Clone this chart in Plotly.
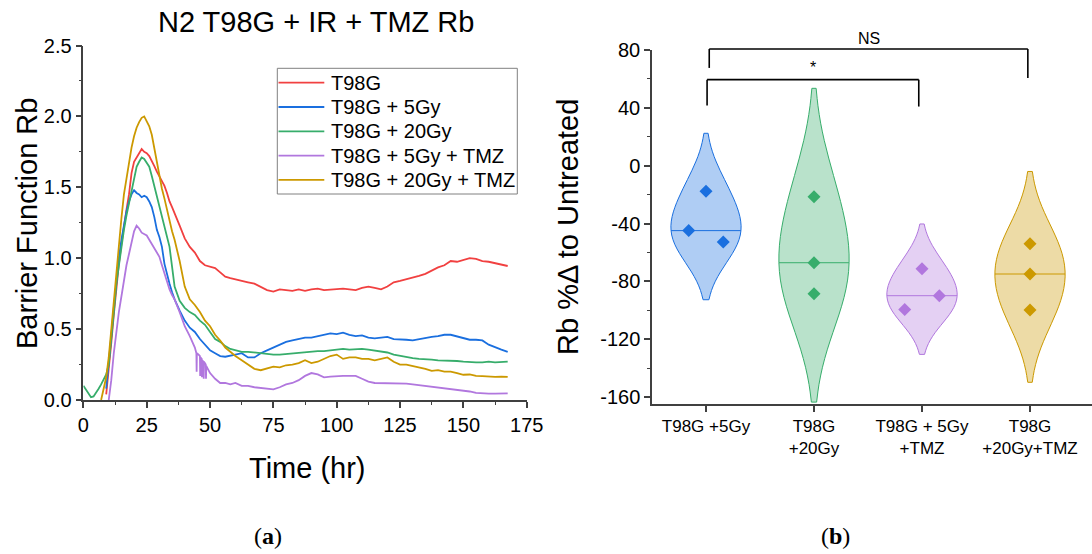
import numpy as np
import plotly.graph_objects as go

W, H = 1092, 554
FONT = "Liberation Sans, Arial, sans-serif"

# ---------------- Panel (a): barrier function time course ----------------
TIME = [0, 1, 2, 3, 4, 5, 6, 7, 8, 9, 10, 11, 12, 13, 14, 15, 16, 17, 18, 19, 20,
        21, 22, 23, 24, 25, 26, 27, 28, 29, 30, 31, 32, 33, 34, 35, 36,
        38, 40, 42, 44, 46, 48, 50, 52, 54, 56, 58, 60,
        62.5, 65, 67.5, 70, 72.5, 75, 77.5, 80, 82.5, 85,
        87.5, 90, 92.5, 95, 97.5, 100, 102.5, 105, 107.5, 110,
        112.5, 115, 117.5, 120, 122.5, 125, 127.5, 130, 132.5, 135,
        137.5, 140, 142.5, 145, 147.5, 150, 152.5, 155, 157.5, 160,
        162.5, 165, 167.5]

RB_T98G = [None, None, None, None, None, None, None, None, None,
           0.04, 0.20, 0.40, 0.60, 0.80, 0.96, 1.10, 1.24, 1.34, 1.45, 1.60, 1.68,
           1.71, 1.75, 1.77, 1.75, 1.74, 1.72, 1.69, 1.65, 1.61, 1.58, 1.55, 1.51,
           1.46, 1.40, 1.36, 1.32,
           1.23, 1.14, 1.08, 1.04, 0.98, 0.95, 0.94, 0.93, 0.90, 0.87, 0.86, 0.85,
           0.84, 0.83, 0.82, 0.80, 0.775, 0.765, 0.78, 0.775, 0.77, 0.78,
           0.77, 0.78, 0.785, 0.775, 0.78, 0.78, 0.785, 0.78, 0.775, 0.79,
           0.80, 0.79, 0.78, 0.80, 0.83, 0.84, 0.85, 0.86, 0.875, 0.89,
           0.915, 0.935, 0.95, 0.98, 0.975, 0.985, 1.00, 0.995, 0.98, 0.975,
           0.965, 0.955, 0.945]

RB_5GY = [None, None, None, None, None, None, None, None, None,
          0.08, 0.25, 0.45, 0.65, 0.85, 1.00, 1.13, 1.24, 1.33, 1.40, 1.45, 1.48,
          1.46, 1.45, 1.43, 1.44, 1.43, 1.40, 1.36, 1.29, 1.20, 1.15, 1.08, 0.96,
          0.88, 0.82, 0.76, 0.71,
          0.63, 0.56, 0.51, 0.48, 0.43, 0.39, 0.35, 0.33, 0.31, 0.305, 0.31, 0.32,
          0.33, 0.30, 0.30, 0.33, 0.35, 0.37, 0.39, 0.41, 0.42, 0.43,
          0.44, 0.44, 0.45, 0.455, 0.47, 0.465, 0.475, 0.46, 0.45, 0.455,
          0.44, 0.435, 0.44, 0.445, 0.43, 0.43, 0.425, 0.42, 0.43, 0.44,
          0.445, 0.45, 0.46, 0.46, 0.45, 0.435, 0.425, 0.425, 0.42, 0.39,
          0.37, 0.355, 0.34]

RB_20GY = [0.10, 0.07, 0.04, 0.02, 0.025, 0.05, 0.08, 0.11, 0.14,
           0.18, 0.25, 0.42, 0.62, 0.82, 0.96, 1.08, 1.20, 1.30, 1.39, 1.48, 1.56,
           1.645, 1.68, 1.71, 1.70, 1.67, 1.645, 1.58, 1.51, 1.44, 1.37, 1.30, 1.22,
           1.15, 1.08, 0.94, 0.80,
           0.70, 0.65, 0.62, 0.60, 0.56, 0.53, 0.48, 0.43, 0.41, 0.38, 0.36, 0.35,
           0.34, 0.34, 0.335, 0.33, 0.32, 0.32, 0.32, 0.325, 0.33, 0.335,
           0.34, 0.34, 0.345, 0.345, 0.35, 0.355, 0.36, 0.355, 0.36, 0.36,
           0.355, 0.35, 0.345, 0.335, 0.32, 0.31, 0.30, 0.295, 0.29, 0.29,
           0.285, 0.28, 0.28, 0.275, 0.275, 0.27, 0.265, 0.265, 0.265, 0.27,
           0.265, 0.27, 0.27]

RB_20GY_TMZ = [None, None, None, None, None, None, None,
               0.00, 0.08, 0.16, 0.30, 0.50, 0.70, 0.92, 1.10, 1.28, 1.45, 1.57, 1.68, 1.78, 1.86,
               1.92, 1.96, 1.99, 2.00, 1.97, 1.93, 1.87, 1.77, 1.66, 1.56, 1.49, 1.42,
               1.34, 1.27, 1.19, 1.13,
               0.98, 0.80, 0.71, 0.67, 0.62, 0.56, 0.52, 0.46, 0.42, 0.37, 0.34, 0.31,
               0.28, 0.25, 0.22, 0.21, 0.22, 0.235, 0.23, 0.245, 0.25, 0.26,
               0.28, 0.26, 0.27, 0.29, 0.31, 0.32, 0.29, 0.30, 0.30, 0.29,
               0.29, 0.28, 0.29, 0.30, 0.27, 0.25, 0.25, 0.24, 0.235, 0.22,
               0.205, 0.21, 0.20, 0.20, 0.19, 0.178, 0.18, 0.17, 0.168, 0.165,
               0.163, 0.165, 0.163]

TIME_5GY_TMZ = [10, 11, 12, 13, 14, 15, 16, 17, 18, 19, 20,
                21, 22, 23, 24, 25, 26, 27, 28, 29, 30, 31, 32, 33, 34, 35, 36,
                38, 40, 42, 44, 44.6, 44.7, 44.8, 45.5, 46.0, 46.1, 46.2, 46.7, 46.8, 46.9,
                47.4, 47.5, 47.6, 48, 48.3, 48.4, 48.5, 50, 52, 54, 56, 58, 60,
                62.5, 65, 67.5, 70, 72.5, 75, 77.5, 80, 82.5, 85,
                87.5, 90, 92.5, 95, 97.5, 100, 102.5, 105, 107.5, 110,
                112.5, 115, 117.5, 120, 122.5, 125, 127.5, 130, 132.5, 135,
                137.5, 140, 142.5, 145, 147.5, 150, 152.5, 155, 157.5, 160,
                162.5, 165, 167.5]

RB_5GY_TMZ = [0.00, 0.14, 0.33, 0.50, 0.62, 0.73, 0.85, 0.95, 1.03, 1.12, 1.19,
              1.23, 1.21, 1.18, 1.17, 1.16, 1.13, 1.10, 1.07, 1.04, 1.01, 0.95, 0.89,
              0.84, 0.78, 0.74, 0.71,
              0.62, 0.52, 0.45, 0.37, 0.33, 0.20, 0.33, 0.32, 0.31, 0.17, 0.30, 0.29, 0.16, 0.28,
              0.27, 0.15, 0.27, 0.26, 0.25, 0.15, 0.24, 0.19, 0.15, 0.12, 0.12, 0.11, 0.12,
              0.10, 0.10, 0.09, 0.085, 0.08, 0.075, 0.09, 0.11, 0.12, 0.14,
              0.17, 0.19, 0.18, 0.16, 0.165, 0.17, 0.17, 0.17, 0.17, 0.15,
              0.13, 0.12, 0.12, 0.12, 0.12, 0.12, 0.115, 0.11, 0.105, 0.10,
              0.095, 0.09, 0.085, 0.08, 0.075, 0.07, 0.06, 0.05, 0.045, 0.045,
              0.045, 0.047, 0.047]

SERIES_NAMES = ["T98G", "T98G + 5Gy", "T98G + 20Gy", "T98G + 5Gy + TMZ", "T98G + 20Gy + TMZ"]
SERIES_TIMES = [TIME, TIME, TIME, TIME_5GY_TMZ, TIME]
SERIES_VALUES = [RB_T98G, RB_5GY, RB_20GY, RB_5GY_TMZ, RB_20GY_TMZ]
SERIES_COLORS = ["#F14040", "#1A6FDF", "#37AD6B", "#B177DE", "#CC9900"]

X1_TICKS = [0, 25, 50, 75, 100, 125, 150, 175]
Y1_TICKS = [0.0, 0.5, 1.0, 1.5, 2.0, 2.5]

# ---------------- Panel (b): violin plot ----------------
GROUP_LABELS = ["T98G +5Gy", "T98G<br>+20Gy", "T98G + 5Gy<br>+TMZ", "T98G<br>+20Gy+TMZ"]
GROUP_VALUES = [[-17.6, -44.9, -52.7],
                [-21.5, -67.1, -88.5],
                [-71.3, -89.9, -99.5],
                [-54.0, -74.9, -99.8]]
POINT_OFFSETS = [[0.0, -0.16, 0.16], [0.0, 0.0, 0.0], [0.0, 0.16, -0.16], [0.0, 0.0, 0.0]]
BANDWIDTHS = [20.0, 37.5, 15.5, 25.0]
GROUP_COLORS = ["#1A6FDF", "#37AD6B", "#B177DE", "#CC9900"]
GROUP_FILLS = ["rgba(26,111,223,0.35)", "rgba(55,173,107,0.35)",
               "rgba(177,119,222,0.35)", "rgba(204,153,0,0.35)"]
Y2_TICKS = [-160, -120, -80, -40, 0, 40, 80]
VIOLIN_WIDTH = 0.65

# significance brackets: (left x, right x, bar y, left end y, right end y, label, label y)
BRACKETS = [(0.01, 1.97, 59.5, 41.6, 40.9, "*", 68.0),
            (0.03, 2.98, 80.7, 67.6, 60.7, "NS", 88.0)]

# ---------------- layout geometry ----------------
X1_DOMAIN = [83.4 / W, 526.7 / W]
Y1_DOMAIN = [1 - 400 / H, 1 - 45.5 / H]
X2_DOMAIN = [652 / W, 1.0]
Y2_DOMAIN = [1 - 404 / H, 1 - 50 / H]
X2_RANGE = [-0.5, 3.574]
Y2_RANGE = [-164.8, 80]

# legend box (pixels): left, top, right, bottom, first row centre, row step
LEG_BOX = (277.3, 68.3, 517.3, 194.0)
LEG_ROW0, LEG_STEP = 82.7, 24.3
LEG_LINE_X = (278.5, 324.3)
LEG_TEXT_X = 329.0


def paper_x2(v):
    return X2_DOMAIN[0] + (v - X2_RANGE[0]) / (X2_RANGE[1] - X2_RANGE[0]) * (X2_DOMAIN[1] - X2_DOMAIN[0])


def paper_y2(v):
    return Y2_DOMAIN[0] + (v - Y2_RANGE[0]) / (Y2_RANGE[1] - Y2_RANGE[0]) * (Y2_DOMAIN[1] - Y2_DOMAIN[0])


def kde(points, data, bw):
    points = np.asarray(points, dtype=float)[:, None]
    data = np.asarray(data, dtype=float)[None, :]
    return np.exp(-0.5 * ((points - data) / bw) ** 2).sum(axis=1)


fig = go.Figure()

for name, t, v, c in zip(SERIES_NAMES, SERIES_TIMES, SERIES_VALUES, SERIES_COLORS):
    fig.add_trace(go.Scatter(x=t, y=v, mode="lines", name=name,
                             line=dict(color=c, width=1.8), connectgaps=False,
                             showlegend=False, xaxis="x", yaxis="y"))

for i, (vals, offs, bw, col, fill) in enumerate(zip(GROUP_VALUES, POINT_OFFSETS, BANDWIDTHS,
                                                    GROUP_COLORS, GROUP_FILLS)):
    fig.add_trace(go.Violin(x=[i] * len(vals), y=vals, xaxis="x2", yaxis="y2",
                            bandwidth=bw, width=VIOLIN_WIDTH, scalemode="width",
                            line=dict(color=col, width=1), fillcolor=fill,
                            points=False, showlegend=False, hoverinfo="skip"))
    # median line across the violin
    grid = np.linspace(min(vals) - 2 * bw, max(vals) + 2 * bw, 600)
    dmax = kde(grid, vals, bw).max()
    med = float(np.median(vals))
    hw = VIOLIN_WIDTH / 2 * kde([med], vals, bw)[0] / dmax
    fig.add_trace(go.Scatter(x=[i - hw, i + hw], y=[med, med], mode="lines",
                             line=dict(color=col, width=1), showlegend=False,
                             hoverinfo="skip", xaxis="x2", yaxis="y2"))
    fig.add_trace(go.Scatter(x=[i + o for o in offs], y=vals, mode="markers",
                             marker=dict(symbol="diamond", size=10, color=col),
                             showlegend=False, hoverinfo="skip", xaxis="x2", yaxis="y2"))

axis_common = dict(showline=True, linecolor="#404040", linewidth=1.5, ticks="outside",
                   ticklen=6, tickwidth=1.5, tickcolor="#404040", showgrid=False,
                   zeroline=False, automargin=False,
                   tickfont=dict(family=FONT, size=20, color="#000000"))

shapes = []
annotations = []
for x0, x1, ybar, yl, yr, label, ylab in BRACKETS:
    pts = [(x0, yl), (x0, ybar), (x1, ybar), (x1, yr)]
    for (a, b), (c, d) in zip(pts[:-1], pts[1:]):
        shapes.append(dict(type="line", xref="paper", yref="paper",
                           x0=paper_x2(a), y0=paper_y2(b), x1=paper_x2(c), y1=paper_y2(d),
                           line=dict(color="#000000", width=1.6)))
    annotations.append(dict(text=label, xref="paper", yref="paper",
                            x=paper_x2((x0 + x1) / 2), y=paper_y2(ylab),
                            showarrow=False, font=dict(family=FONT, size=16, color="#000000"),
                            xanchor="center", yanchor="middle"))

# legend drawn as a framed box with line samples and labels
bl, bt, br, bb = LEG_BOX
shapes.append(dict(type="rect", xref="paper", yref="paper",
                   x0=bl / W, x1=br / W, y0=1 - bb / H, y1=1 - bt / H,
                   line=dict(color="#808080", width=1), fillcolor="white", layer="above"))
for k, (name, col) in enumerate(zip(SERIES_NAMES, SERIES_COLORS)):
    yc = LEG_ROW0 + k * LEG_STEP
    shapes.append(dict(type="line", xref="paper", yref="paper",
                       x0=LEG_LINE_X[0] / W, x1=LEG_LINE_X[1] / W, y0=1 - yc / H, y1=1 - yc / H,
                       line=dict(color=col, width=1.8), layer="above"))
    annotations.append(dict(text=name, xref="paper", yref="paper", x=LEG_TEXT_X / W, y=1 - yc / H,
                            showarrow=False, xanchor="left", yanchor="middle",
                            font=dict(family=FONT, size=20, color="#000000")))

annotations += [
    dict(text="N2 T98G + IR + TMZ Rb", xref="paper", yref="paper", x=316 / W, y=1 - 22 / H,
         showarrow=False, font=dict(family=FONT, size=29, color="#000000"),
         xanchor="center", yanchor="middle"),
    dict(text="Barrier Function Rb", xref="paper", yref="paper", x=27 / W, y=1 - 224 / H,
         showarrow=False, textangle=-90, font=dict(family=FONT, size=29, color="#000000"),
         xanchor="center", yanchor="middle"),
    dict(text="Time (hr)", xref="paper", yref="paper", x=307 / W, y=1 - 468 / H,
         showarrow=False, font=dict(family=FONT, size=29, color="#000000"),
         xanchor="center", yanchor="middle"),
    dict(text="Rb %Δ to Untreated", xref="paper", yref="paper", x=568 / W, y=1 - 227 / H,
         showarrow=False, textangle=-90, font=dict(family=FONT, size=29, color="#000000"),
         xanchor="center", yanchor="middle"),
    dict(text="(<b>a</b>)", xref="paper", yref="paper", x=268 / W, y=1 - 536 / H,
         showarrow=False, font=dict(family="Liberation Serif, serif", size=24, color="#000000"),
         xanchor="center", yanchor="middle"),
    dict(text="(<b>b</b>)", xref="paper", yref="paper", x=835 / W, y=1 - 536 / H,
         showarrow=False, font=dict(family="Liberation Serif, serif", size=24, color="#000000"),
         xanchor="center", yanchor="middle"),
]

fig.update_layout(
    width=W, height=H, margin=dict(l=0, r=0, t=0, b=0, pad=0, autoexpand=False),
    paper_bgcolor="white", plot_bgcolor="white",
    font=dict(family=FONT, color="#000000"),
    violinmode="overlay", showlegend=False,
    xaxis=dict(domain=X1_DOMAIN, range=[0, 175], tickvals=X1_TICKS, anchor="y",
               minor=dict(ticks="outside", ticklen=3, tickwidth=1.2, tickcolor="#404040", dtick=12.5),
               **axis_common),
    yaxis=dict(domain=Y1_DOMAIN, range=[0, 2.5], tickvals=Y1_TICKS, tickformat=".1f", anchor="x",
               minor=dict(ticks="outside", ticklen=3, tickwidth=1.2, tickcolor="#404040", dtick=0.25),
               **axis_common),
    xaxis2=dict(domain=X2_DOMAIN, range=X2_RANGE, tickvals=[0, 1, 2, 3], ticktext=GROUP_LABELS,
                anchor="y2", **{**axis_common, "tickfont": dict(family=FONT, size=17, color="#000000")}),
    yaxis2=dict(domain=Y2_DOMAIN, range=Y2_RANGE, tickvals=Y2_TICKS,
                ticktext=[str(v) for v in Y2_TICKS], anchor="x2",
                minor=dict(ticks="outside", ticklen=3, tickwidth=1.2, tickcolor="#404040", dtick=20),
                **axis_common),
    shapes=shapes,
    annotations=annotations,
)

fig.write_html("out.html")
